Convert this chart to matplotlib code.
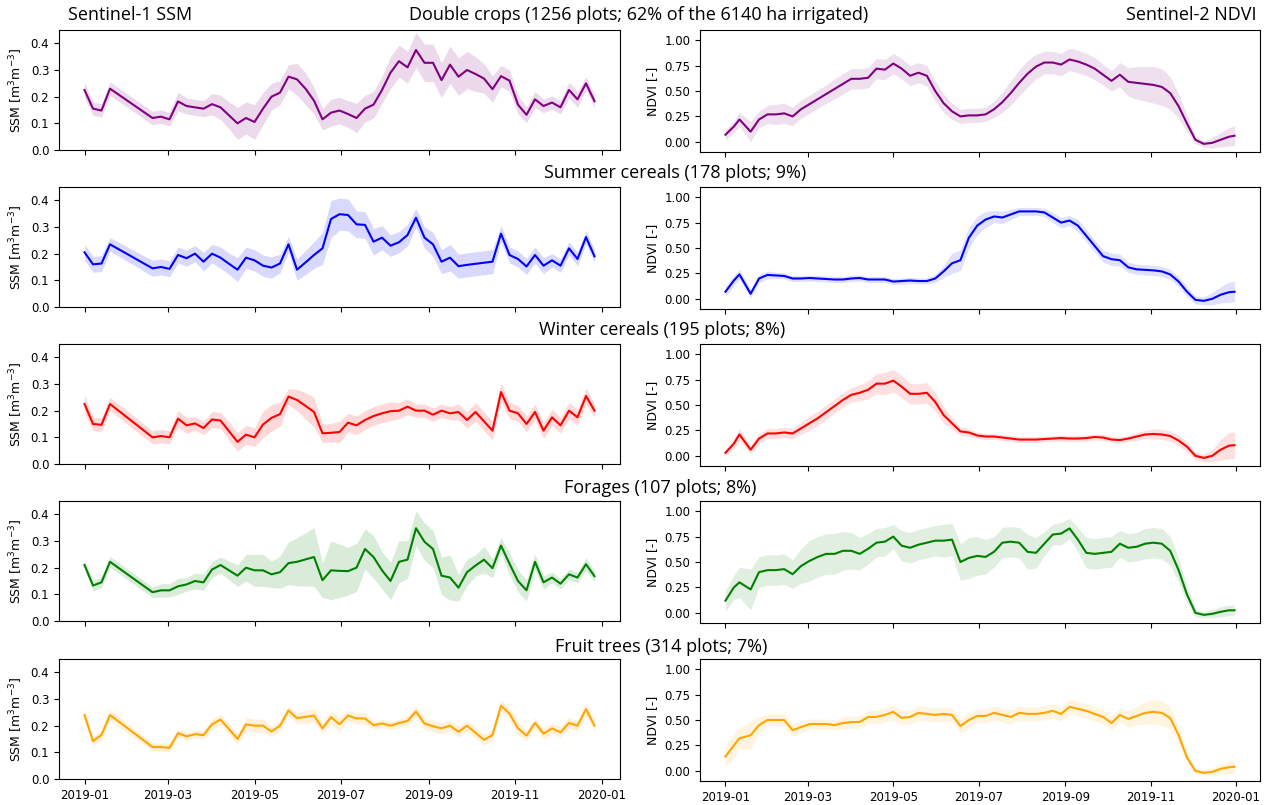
import numpy as np
import matplotlib
import matplotlib.pyplot as plt
import matplotlib.dates as mdates

matplotlib.use('Agg')

# Crop classes (row titles) and colours
crop_titles = ['Double crops (1256 plots; 62% of the 6140 ha irrigated)',
               'Summer cereals (178 plots; 9%)',
               'Winter cereals (195 plots; 8%)',
               'Forages (107 plots; 8%)',
               'Fruit trees (314 plots; 7%)']
crop_colors = ['purple', 'blue', 'red', 'green', 'orange']

# Sentinel-1 acquisition days (days since 2019-01-01)
ssm_days = [0, 6, 12, 18, 48, 54, 60, 66, 72, 78, 84, 90, 96, 102, 108, 114, 120,
            126, 132, 138, 144, 150, 156, 162, 168, 174, 180, 186, 192, 198, 204,
            210, 216, 222, 228, 234, 240, 246, 252, 258, 264, 270, 276, 282, 288,
            294, 300, 306, 312, 318, 324, 330, 336, 342, 348, 354, 360]

# SSM mean and spread per class
ssm_double = [0.225, 0.155, 0.148, 0.23,
              0.12, 0.125, 0.115, 0.182, 0.165, 0.16, 0.155, 0.172, 0.16, 0.13,
              0.10, 0.12, 0.105, 0.155, 0.20, 0.215, 0.275, 0.265, 0.23, 0.185,
              0.115, 0.14, 0.148, 0.135, 0.12, 0.155, 0.17, 0.225, 0.29, 0.333,
              0.31, 0.375, 0.327, 0.327, 0.262, 0.32, 0.275, 0.30, 0.285, 0.268,
              0.228, 0.277, 0.26, 0.17, 0.132, 0.19, 0.165, 0.178, 0.16, 0.225,
              0.19, 0.25, 0.183]
ssm_double_sd = [0.03, 0.025, 0.025, 0.025,
                 0.025, 0.025, 0.025, 0.035, 0.03, 0.03, 0.03, 0.04, 0.045, 0.05,
                 0.06, 0.06, 0.065, 0.06, 0.05, 0.045, 0.045, 0.06, 0.06, 0.05,
                 0.04, 0.05, 0.05, 0.05, 0.055, 0.05, 0.05, 0.05, 0.06, 0.06,
                 0.06, 0.065, 0.07, 0.07, 0.065, 0.07, 0.07, 0.07, 0.065, 0.055,
                 0.05, 0.04, 0.04, 0.035, 0.03, 0.03, 0.025, 0.025, 0.025, 0.03,
                 0.03, 0.025, 0.025]

ssm_summer = [0.205, 0.16, 0.163, 0.235,
              0.145, 0.15, 0.143, 0.195, 0.183, 0.20, 0.17, 0.20, 0.185, 0.162,
              0.14, 0.185, 0.175, 0.155, 0.148, 0.163, 0.235, 0.14, 0.167, 0.195,
              0.22, 0.33, 0.348, 0.345, 0.31, 0.308, 0.245, 0.26, 0.23, 0.243,
              0.27, 0.335, 0.26, 0.235, 0.17, 0.185, 0.153, 0.158, 0.162, 0.166,
              0.17, 0.275, 0.195, 0.18, 0.152, 0.195, 0.155, 0.175, 0.155, 0.22,
              0.18, 0.262, 0.19]
ssm_summer_sd = [0.03, 0.03, 0.03, 0.025,
                 0.03, 0.03, 0.03, 0.03, 0.03, 0.03, 0.035, 0.035, 0.04, 0.04,
                 0.045, 0.04, 0.04, 0.04, 0.04, 0.035, 0.03, 0.04, 0.045, 0.05,
                 0.06, 0.07, 0.06, 0.06, 0.05, 0.05, 0.05, 0.045, 0.04, 0.04,
                 0.04, 0.035, 0.04, 0.045, 0.045, 0.05, 0.045, 0.045, 0.045, 0.045,
                 0.045, 0.03, 0.03, 0.03, 0.03, 0.03, 0.03, 0.025, 0.025, 0.025,
                 0.025, 0.025, 0.025]

ssm_winter = [0.225, 0.15, 0.147, 0.225,
              0.10, 0.105, 0.10, 0.17, 0.145, 0.152, 0.135, 0.167, 0.163, 0.123,
              0.083, 0.11, 0.10, 0.148, 0.173, 0.187, 0.253, 0.24, 0.218, 0.195,
              0.115, 0.117, 0.12, 0.155, 0.145, 0.165, 0.18, 0.19, 0.198, 0.20,
              0.215, 0.20, 0.20, 0.185, 0.20, 0.19, 0.195, 0.165, 0.195, 0.16,
              0.125, 0.27, 0.20, 0.19, 0.15, 0.195, 0.125, 0.175, 0.145, 0.20,
              0.175, 0.255, 0.20]
ssm_winter_sd = [0.035, 0.025, 0.025, 0.025,
                 0.025, 0.025, 0.025, 0.03, 0.03, 0.025, 0.025, 0.03, 0.03, 0.035,
                 0.035, 0.035, 0.035, 0.05, 0.05, 0.045, 0.03, 0.04, 0.05, 0.055,
                 0.035, 0.035, 0.04, 0.035, 0.035, 0.035, 0.035, 0.035, 0.035, 0.03,
                 0.03, 0.025, 0.025, 0.025, 0.025, 0.025, 0.03, 0.03, 0.035, 0.035,
                 0.035, 0.035, 0.03, 0.03, 0.03, 0.03, 0.03, 0.03, 0.03, 0.03,
                 0.03, 0.03, 0.025]

ssm_forages = [0.21, 0.133, 0.145, 0.222,
               0.108, 0.115, 0.115, 0.13, 0.137, 0.15, 0.145, 0.193, 0.21, 0.19,
               0.17, 0.20, 0.19, 0.19, 0.175, 0.183, 0.217, 0.222, 0.231, 0.24,
               0.153, 0.19, 0.188, 0.187, 0.20, 0.27, 0.24, 0.19, 0.15, 0.222,
               0.23, 0.348, 0.297, 0.27, 0.17, 0.163, 0.125, 0.183, 0.208, 0.23,
               0.198, 0.283, 0.215, 0.15, 0.115, 0.222, 0.145, 0.163, 0.14, 0.175,
               0.163, 0.213, 0.168]
ssm_forages_sd = [0.015, 0.02, 0.02, 0.02,
                  0.02, 0.025, 0.025, 0.03, 0.025, 0.03, 0.03, 0.03, 0.03, 0.035,
                  0.04, 0.05, 0.06, 0.06, 0.05, 0.06, 0.08, 0.09, 0.1, 0.11,
                  0.065, 0.11, 0.1, 0.09, 0.09, 0.075, 0.08, 0.07, 0.07, 0.08,
                  0.07, 0.065, 0.07, 0.07, 0.07, 0.085, 0.05, 0.05, 0.04, 0.05,
                  0.035, 0.03, 0.04, 0.04, 0.04, 0.03, 0.025, 0.02, 0.02, 0.02,
                  0.02, 0.025, 0.02]

ssm_fruit = [0.24, 0.142, 0.165, 0.24,
             0.12, 0.12, 0.117, 0.172, 0.16, 0.168, 0.165, 0.205, 0.223, 0.187,
             0.15, 0.205, 0.20, 0.20, 0.178, 0.20, 0.257, 0.228, 0.233, 0.238,
             0.19, 0.232, 0.205, 0.238, 0.227, 0.227, 0.202, 0.208, 0.20, 0.21,
             0.218, 0.253, 0.208, 0.198, 0.19, 0.20, 0.177, 0.20, 0.173, 0.147,
             0.165, 0.275, 0.245, 0.19, 0.163, 0.21, 0.17, 0.19, 0.175, 0.21,
             0.20, 0.262, 0.20]
ssm_fruit_sd = [0.02, 0.018, 0.02, 0.02,
                0.015, 0.015, 0.015, 0.015, 0.015, 0.015, 0.015, 0.02, 0.02, 0.02,
                0.02, 0.025, 0.025, 0.025, 0.02, 0.02, 0.02, 0.02, 0.025, 0.025,
                0.02, 0.025, 0.025, 0.02, 0.02, 0.02, 0.015, 0.015, 0.015, 0.015,
                0.02, 0.02, 0.02, 0.02, 0.02, 0.02, 0.02, 0.02, 0.02, 0.02,
                0.02, 0.02, 0.02, 0.025, 0.02, 0.02, 0.02, 0.02, 0.02, 0.02,
                0.02, 0.025, 0.02]

# Sentinel-2 NDVI (smoothed), read every 6 days
ndvi_days = [0, 6, 10, 18, 24, 30, 36, 42, 48, 54, 60, 66, 72, 78, 84, 90, 96,
             102, 108, 114, 120, 126, 132, 138, 144, 150, 156, 162, 168, 174, 180,
             186, 192, 198, 204, 210, 216, 222, 228, 234, 240, 246, 252, 258, 264,
             270, 276, 282, 288, 294, 300, 306, 312, 318, 324, 330, 336, 342, 348,
             354, 360, 364]

ndvi_double = [0.07, 0.15, 0.22, 0.10, 0.22, 0.27, 0.27, 0.28, 0.25, 0.32,
               0.37, 0.42, 0.47, 0.52, 0.57, 0.62, 0.62, 0.63, 0.72, 0.71,
               0.77, 0.72, 0.65, 0.68, 0.65, 0.50, 0.38, 0.30, 0.25, 0.26,
               0.26, 0.27, 0.32, 0.39, 0.48, 0.58, 0.67, 0.74, 0.78, 0.78,
               0.76, 0.81, 0.79, 0.76, 0.72, 0.66, 0.60, 0.66, 0.59, 0.58,
               0.57, 0.56, 0.54, 0.48, 0.35, 0.18, 0.02, -0.02, -0.01, 0.02,
               0.05, 0.06]
ndvi_double_sd = [0.05, 0.06, 0.07, 0.1, 0.08, 0.09, 0.1, 0.1, 0.09, 0.09,
                  0.09, 0.09, 0.09, 0.1, 0.1, 0.1, 0.1, 0.1, 0.1, 0.1,
                  0.1, 0.1, 0.1, 0.1, 0.1, 0.1, 0.09, 0.08, 0.07, 0.07,
                  0.07, 0.07, 0.08, 0.1, 0.12, 0.13, 0.13, 0.12, 0.11, 0.11,
                  0.11, 0.11, 0.11, 0.11, 0.11, 0.1, 0.1, 0.12, 0.14, 0.16,
                  0.17, 0.18, 0.18, 0.16, 0.12, 0.08, 0.04, 0.03, 0.05, 0.07,
                  0.09, 0.1]

ndvi_summer = [0.07, 0.18, 0.24, 0.05, 0.20, 0.235, 0.23, 0.225, 0.20, 0.20,
               0.205, 0.20, 0.195, 0.19, 0.19, 0.20, 0.205, 0.19, 0.19, 0.19,
               0.17, 0.175, 0.18, 0.175, 0.175, 0.20, 0.27, 0.35, 0.38, 0.60,
               0.72, 0.78, 0.81, 0.80, 0.83, 0.86, 0.86, 0.86, 0.85, 0.80,
               0.75, 0.77, 0.72, 0.62, 0.52, 0.42, 0.39, 0.38, 0.31, 0.29,
               0.285, 0.28, 0.27, 0.24, 0.17, 0.07, -0.01, -0.02, 0.0, 0.04,
               0.065, 0.07]
ndvi_summer_sd = [0.05, 0.05, 0.05, 0.04, 0.04, 0.04, 0.03, 0.03, 0.03, 0.03,
                  0.03, 0.03, 0.03, 0.03, 0.03, 0.03, 0.03, 0.03, 0.03, 0.03,
                  0.03, 0.03, 0.03, 0.03, 0.03, 0.04, 0.06, 0.1, 0.1, 0.1,
                  0.09, 0.08, 0.06, 0.06, 0.05, 0.04, 0.04, 0.04, 0.04, 0.05,
                  0.05, 0.05, 0.06, 0.06, 0.06, 0.06, 0.06, 0.06, 0.05, 0.05,
                  0.05, 0.05, 0.05, 0.05, 0.05, 0.05, 0.04, 0.04, 0.06, 0.08,
                  0.1, 0.1]

ndvi_winter = [0.03, 0.12, 0.21, 0.06, 0.17, 0.22, 0.22, 0.23, 0.22, 0.27,
               0.32, 0.37, 0.43, 0.49, 0.55, 0.60, 0.62, 0.65, 0.71, 0.71,
               0.74, 0.68, 0.61, 0.61, 0.62, 0.53, 0.40, 0.32, 0.24, 0.23,
               0.20, 0.19, 0.19, 0.18, 0.17, 0.16, 0.16, 0.16, 0.165, 0.17,
               0.175, 0.17, 0.17, 0.175, 0.185, 0.18, 0.16, 0.155, 0.17, 0.19,
               0.21, 0.215, 0.21, 0.195, 0.15, 0.09, 0.0, -0.02, 0.0, 0.06,
               0.10, 0.105]
ndvi_winter_sd = [0.03, 0.05, 0.06, 0.04, 0.05, 0.05, 0.05, 0.05, 0.05, 0.06,
                  0.07, 0.07, 0.07, 0.07, 0.07, 0.07, 0.08, 0.09, 0.1, 0.11,
                  0.11, 0.11, 0.1, 0.1, 0.1, 0.09, 0.08, 0.06, 0.04, 0.04,
                  0.03, 0.03, 0.03, 0.03, 0.03, 0.03, 0.03, 0.03, 0.03, 0.03,
                  0.03, 0.03, 0.03, 0.03, 0.03, 0.03, 0.03, 0.03, 0.03, 0.04,
                  0.04, 0.05, 0.05, 0.05, 0.05, 0.05, 0.04, 0.04, 0.06, 0.1,
                  0.13, 0.13]

ndvi_forages = [0.12, 0.25, 0.30, 0.23, 0.40, 0.42, 0.42, 0.43, 0.38, 0.46,
                0.51, 0.55, 0.58, 0.58, 0.61, 0.61, 0.58, 0.63, 0.69, 0.70,
                0.75, 0.66, 0.64, 0.67, 0.69, 0.71, 0.71, 0.72, 0.50, 0.54,
                0.56, 0.55, 0.60, 0.69, 0.70, 0.69, 0.60, 0.59, 0.68, 0.77,
                0.78, 0.83, 0.72, 0.59, 0.58, 0.59, 0.60, 0.68, 0.64, 0.65,
                0.68, 0.69, 0.68, 0.61, 0.42, 0.18, 0.0, -0.02, -0.01, 0.01,
                0.025, 0.025]
ndvi_forages_sd = [0.1, 0.12, 0.15, 0.2, 0.15, 0.15, 0.15, 0.15, 0.14, 0.17,
                   0.2, 0.2, 0.2, 0.2, 0.19, 0.18, 0.16, 0.15, 0.14, 0.14,
                   0.12, 0.15, 0.15, 0.15, 0.15, 0.15, 0.16, 0.16, 0.18, 0.2,
                   0.19, 0.17, 0.15, 0.15, 0.15, 0.15, 0.17, 0.15, 0.12, 0.1,
                   0.11, 0.1, 0.12, 0.15, 0.15, 0.15, 0.15, 0.13, 0.14, 0.14,
                   0.15, 0.15, 0.15, 0.14, 0.12, 0.08, 0.04, 0.03, 0.04, 0.05,
                   0.05, 0.05]

ndvi_fruit = [0.14, 0.25, 0.32, 0.35, 0.45, 0.50, 0.50, 0.50, 0.40, 0.43,
              0.46, 0.46, 0.46, 0.45, 0.47, 0.48, 0.48, 0.53, 0.53, 0.55,
              0.58, 0.52, 0.53, 0.57, 0.56, 0.55, 0.56, 0.55, 0.44, 0.50,
              0.54, 0.54, 0.57, 0.55, 0.53, 0.57, 0.56, 0.56, 0.57, 0.59,
              0.56, 0.63, 0.61, 0.59, 0.56, 0.53, 0.47, 0.55, 0.51, 0.54,
              0.57, 0.58, 0.57, 0.52, 0.35, 0.13, 0.0, -0.02, -0.01, 0.02,
              0.035, 0.04]
ndvi_fruit_sd = [0.1, 0.12, 0.1, 0.14, 0.08, 0.06, 0.06, 0.06, 0.06, 0.06,
                 0.05, 0.05, 0.05, 0.05, 0.06, 0.06, 0.06, 0.06, 0.07, 0.07,
                 0.08, 0.07, 0.07, 0.07, 0.07, 0.07, 0.07, 0.07, 0.07, 0.07,
                 0.07, 0.07, 0.07, 0.07, 0.07, 0.07, 0.07, 0.07, 0.07, 0.07,
                 0.07, 0.07, 0.07, 0.07, 0.07, 0.07, 0.07, 0.07, 0.08, 0.09,
                 0.11, 0.12, 0.12, 0.11, 0.08, 0.05, 0.03, 0.03, 0.04, 0.05,
                 0.06, 0.06]

ssm_means = [ssm_double, ssm_summer, ssm_winter, ssm_forages, ssm_fruit]
ssm_sds = [ssm_double_sd, ssm_summer_sd, ssm_winter_sd, ssm_forages_sd, ssm_fruit_sd]
ndvi_means = [ndvi_double, ndvi_summer, ndvi_winter, ndvi_forages, ndvi_fruit]
ndvi_sds = [ndvi_double_sd, ndvi_summer_sd, ndvi_winter_sd, ndvi_forages_sd, ndvi_fruit_sd]

start = np.datetime64('2019-01-01')
ssm_dates = start + np.array(ssm_days).astype('timedelta64[D]')
ndvi_dates = start + np.array(ndvi_days).astype('timedelta64[D]')

W, H = 1281, 805
fig = plt.figure(figsize=(W / 100, H / 100), dpi=100)
title_font = ['Open Sans', 'DejaVu Sans']


def px_box(x0, x1, ybot, h=120):
    return [x0 / W, 1 - ybot / H, (x1 - x0) / W, h / H]


row_bottoms = [150, 307, 464, 621, 779]
# where the row titles sit (pixel centre x, y)
title_x = [639, 675, 662, 660, 661]
title_y = [15, 173, 330, 488, 647]

locator = mdates.MonthLocator(bymonth=[1, 3, 5, 7, 9, 11])
fmt = mdates.DateFormatter('%Y-%m')

for i in range(5):
    c = crop_colors[i]
    # left: SSM
    ax = fig.add_axes(px_box(59, 620, row_bottoms[i]))
    m = np.array(ssm_means[i])
    s = np.array(ssm_sds[i])
    ax.fill_between(ssm_dates, m - s, m + s, color=c, alpha=0.15, lw=0)
    ax.plot(ssm_dates, m, color=c, lw=1.5)
    ax.set_ylim(0, 0.45)
    ax.set_yticks([0.0, 0.1, 0.2, 0.3, 0.4])
    ax.set_ylabel('SSM [m$^3$m$^{-3}$]', fontsize=9)
    ax.xaxis.set_major_locator(locator)
    ax.xaxis.set_major_formatter(fmt)
    ax.tick_params(labelsize=8.5)
    if i < 4:
        ax.tick_params(labelbottom=False)

    # right: NDVI
    ax2 = fig.add_axes(px_box(700, 1260, row_bottoms[i] + 2, 122))
    m = np.array(ndvi_means[i])
    s = np.array(ndvi_sds[i])
    ax2.fill_between(ndvi_dates, m - s, m + s, color=c, alpha=0.12, lw=0)
    ax2.plot(ndvi_dates, m, color=c, lw=1.5)
    ax2.set_ylim(-0.1, 1.1)
    ax2.set_yticks([0.0, 0.25, 0.5, 0.75, 1.0])
    ax2.set_ylabel('NDVI [-]', fontsize=9)
    ax2.xaxis.set_major_locator(locator)
    ax2.xaxis.set_major_formatter(fmt)
    ax2.tick_params(labelsize=8.5)
    if i < 4:
        ax2.tick_params(labelbottom=False)

    fig.text(title_x[i] / W, 1 - title_y[i] / H, crop_titles[i], ha='center',
             va='center', fontsize=13, family=title_font)

fig.text(68 / W, 1 - 15 / H, 'Sentinel-1 SSM', ha='left', va='center',
         fontsize=13, family=title_font)
fig.text(1256 / W, 1 - 15 / H, 'Sentinel-2 NDVI', ha='right', va='center',
         fontsize=13, family=title_font)

fig.savefig('out.png', dpi=100)
